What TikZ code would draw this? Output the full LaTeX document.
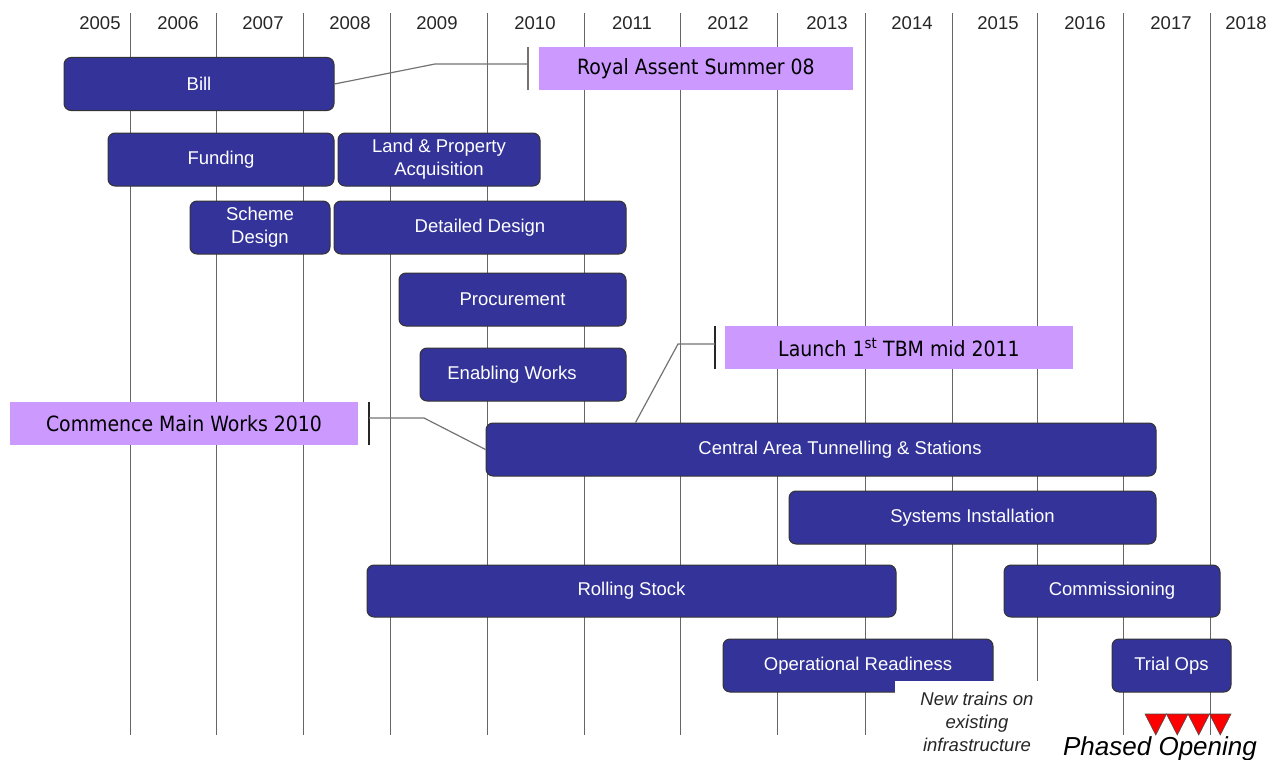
\documentclass[tikz,border=0pt]{standalone}
\usepackage{fontspec}
\setmainfont{Liberation Sans}
\newfontfamily\calloutfont{DejaVu Sans Condensed}
\definecolor{barblue}{RGB}{51,51,153}
\definecolor{lilac}{RGB}{204,153,255}
\tikzset{
  bar/.style={draw=black!80, line width=1pt, fill=barblue, rounded corners=7pt,
    text=white, font=\fontsize{18.5}{23}\selectfont, minimum height=53pt,
    inner sep=0pt, align=center},
  callout/.style={fill=lilac, minimum height=43pt, inner sep=0pt,
    font=\calloutfont\fontsize{21}{24}\selectfont},
  link/.style={draw=black!55, line width=1.2pt},
  tick/.style={draw=black!85, line width=1.2pt},
  gridline/.style={draw=black!60, line width=0.8pt},
  year/.style={font=\fontsize{18.5}{22}\selectfont, anchor=base, text=black!85},
}
\begin{document}
\begin{tikzpicture}[x=1pt,y=-1pt]
    \useasboundingbox (0,0) rectangle (1278,760);

    % Griglia degli anni
    \foreach \gx in {130,216,303,390,487,584,680,777,865,952,1037,1123,1210}
        \draw[gridline] (\gx,13) -- (\gx,735);
    \foreach \yx/\yr in {100/2005,178/2006,263/2007,350/2008,437/2009,535/2010,
        632/2011,728/2012,827/2013,912/2014,998/2015,1085/2016,1171/2017,1246/2018}
        \node[year] (y\yr) at (\yx,30) {\yr};

    % Fasi
    \node[bar, minimum width=270pt] (bill) at (199,84) {Bill};
    \node[bar, minimum width=226pt] (funding) at (221,159.5) {Funding};
    \node[bar, minimum width=202pt] (land) at (439,159.5) {Land \& Property\\Acquisition};
    \node[bar, minimum width=140pt] (scheme) at (260,227.5) {Scheme\\Design};
    \node[bar, minimum width=292pt] (detailed) at (480,227.5) {Detailed Design};
    \node[bar, minimum width=227pt] (procure) at (512.5,299.5) {Procurement};
    \node[bar, minimum width=206pt] (enabling) at (523,374.5) {Enabling Works\hspace{22pt}};
    \node[bar, minimum width=670pt] (central) at (821,449.5) {\hspace{38pt}Central Area Tunnelling \& Stations};
    \node[bar, minimum width=367pt] (systems) at (972.5,517.5) {Systems Installation};
    \node[bar, minimum width=529pt, minimum height=52pt] (rolling) at (631.5,591) {Rolling Stock};
    \node[bar, minimum width=216pt, minimum height=52pt] (commiss) at (1112,591) {Commissioning};
    \node[bar, minimum width=270pt] (opready) at (858,665.5) {Operational Readiness};
    \node[bar, minimum width=119pt] (trialops) at (1171.5,665.5) {Trial Ops};

    % Tappe
    \node[callout, minimum width=314pt] (royal) at (696,68.5) {Royal Assent Summer 08};
    \node[callout, minimum width=348pt] (launch) at (899,347.5) {Launch 1\textsuperscript{st} TBM mid 2011};
    \node[callout, minimum width=348pt] (commence) at (184,423.5) {Commence Main Works 2010};

    \coordinate (royaltick) at (528,64);
    \coordinate (launchtick) at (715,344);
    \coordinate (commencetick) at (369,418);

    \draw[link] (528,47) -- (528,90);
    \draw[link] (bill.east) -- (435,64) -- (royaltick);
    \draw[tick] (715,326) -- (715,369);
    \draw[link] (launchtick) -- (678,344) -- ([xshift=150pt]central.north west);
    \draw[tick] (369,402) -- (369,445);
    \draw[link] (commencetick) -- (424,418) -- (central.west);

    % Apertura
    \node[fill=white, anchor=north, minimum width=164pt, inner xsep=0pt, inner ysep=11pt,
        align=center, text=black!85, font=\itshape\fontsize{18.5}{23}\selectfont]
        (newtrains) at (977,681) {New trains on\\existing\\infrastructure};
    \foreach \i in {0,...,3}
        \draw[fill=red, draw=black!70, line width=0.6pt]
            (1145+21.5*\i,714) -- ++(21.5,0) -- ++(-10.75,21) -- cycle;
    \node[anchor=base, font=\itshape\fontsize{26}{30}\selectfont] (phased) at (1160,755) {Phased Opening};
\end{tikzpicture}
\end{document}
